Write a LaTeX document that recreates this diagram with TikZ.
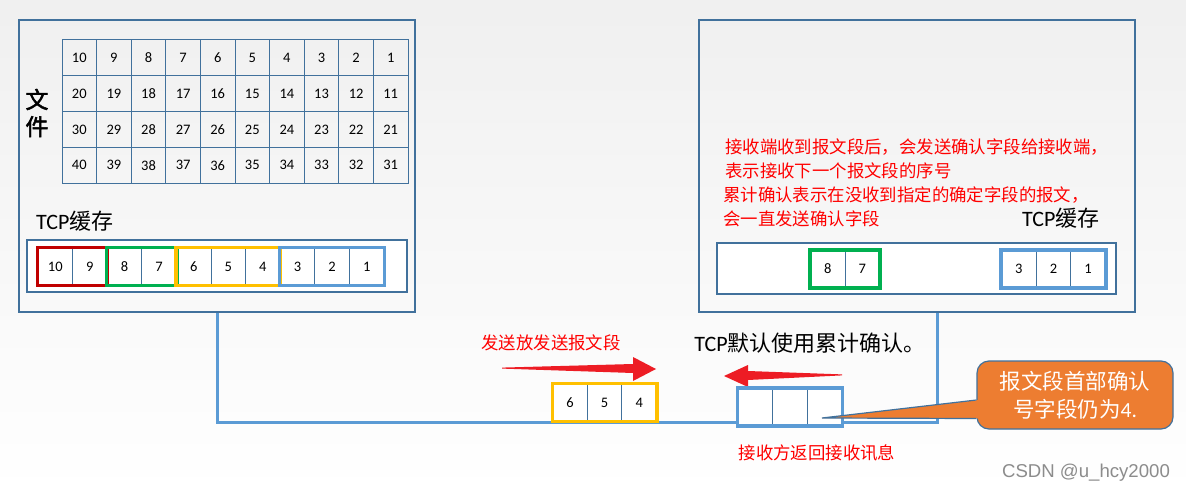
\documentclass[tikz,border=0pt]{standalone}
\usepackage{fontspec}
\usetikzlibrary{calc}
\setmainfont{Carlito}
\newfontfamily\cjk{Noto Sans CJK SC}
\newfontfamily\cjkbf[FakeBold=2]{Noto Sans CJK SC}
\newfontfamily\markfont{Liberation Sans}
\definecolor{cellline}{RGB}{65,113,156}
\definecolor{linkblue}{RGB}{91,155,213}
\definecolor{segred}{RGB}{192,0,0}
\definecolor{seggreen}{RGB}{0,176,80}
\definecolor{segyellow}{RGB}{255,192,0}
\definecolor{notered}{RGB}{255,0,0}
\definecolor{arrowred}{RGB}{237,28,36}
\definecolor{memobg}{RGB}{237,125,49}

\begin{document}
\begin{tikzpicture}[x=1pt, y=-1pt,
    host/.style={draw=cellline, line width=1.2pt, minimum width=#1,
                 minimum height=292pt, inner sep=0pt},
    gridcell/.style={draw=cellline, line width=1pt, minimum width=34.6pt,
                     minimum height=35.8pt, inner sep=0pt, font=\fontsize{14.5}{16}\selectfont},
    cell/.style={draw=cellline, fill=white, line width=1pt, minimum width=34.6pt,
                 minimum height=37pt, inner sep=0pt, font=\fontsize{14.5}{16}\selectfont},
    seg/.style={line width=3.4pt},
    buffer/.style={draw=cellline, fill=white, line width=1.1pt, inner sep=0pt},
    link/.style={draw=linkblue, line width=3pt},
    redtext/.style={font=\cjk\fontsize{17.4}{23.8}\selectfont, text=notered, inner sep=0pt},
    bufname/.style={font=\fontsize{22}{24}\selectfont, inner sep=0pt}
]
    % Background
    \shade[top color=black!6, middle color=black!1, bottom color=white]
        (0,0) rectangle (1186,492);
    \useasboundingbox (0,0) rectangle (1186,492);

    % Hosts
    \node[host=396pt] (sender)   at (217,166) {};
    \node[host=436pt] (receiver) at (917,166) {};
    \coordinate (bend) at (937,422);
    \draw[link] (sender.south) |- (bend) -- (bend |- receiver.south);

    % File
    \node[font=\cjkbf\fontsize{23}{27}\selectfont, align=center, inner sep=0pt]
        (file) at (37,113) {文\\件};
    \foreach \r in {0,...,3}
        \foreach \c in {0,...,9} {
            \pgfmathtruncatemacro{\n}{10*\r+10-\c}
            \node[gridcell] (f\n) at ({79.3+34.6*\c}, {57.9+35.8*\r}) {\n};
        }

    % Sender buffer
    \node[bufname, anchor=west] (sendname) at (36,221) {TCP{\cjk 缓存}};
    \node[buffer, minimum width=380pt, minimum height=52pt] (sendbuf) at (217,266) {};
    \foreach \n [count=\i from 0] in {10,9,...,1}
        \node[cell] (l\n) at ({55.3+34.6*\i}, 266.5) {\n};
    \draw[seg, segred]    (l10.north west) rectangle (l9.south east);
    \draw[seg, seggreen]  (l8.north west)  rectangle (l7.south east);
    \draw[seg, segyellow] (l6.north west)  rectangle (l4.south east);
    \draw[seg, linkblue]  (l3.north west)  rectangle (l1.south east);

    % Receiver notes and buffer
    \node[redtext, anchor=north west, align=left] (acknote) at (725,139)
        {接收端收到报文段后，会发送确认字段给接收端，\\表示接收下一个报文段的序号};
    \node[redtext, anchor=north west, align=left] (cumnote) at (723,187)
        {累计确认表示在没收到指定的确定字段的报文，\\会一直发送确认字段};
    \node[bufname, anchor=west] (recvname) at (1022,218) {TCP{\cjk 缓存}};
    \node[buffer, minimum width=399pt, minimum height=51pt] (recvbuf) at (916.5,268.5) {};
    \node[cell] (r8) at (827.7,269) {8};
    \node[cell] (r7) at (862.3,269) {7};
    \node[cell] (r3) at (1018.9,269) {3};
    \node[cell] (r2) at (1053.5,269) {2};
    \node[cell] (r1) at (1088.1,269) {1};
    \draw[seg, seggreen] (r8.north west) rectangle (r7.south east);
    \draw[seg, linkblue] (r3.north west) rectangle (r1.south east);

    % Segment in flight
    \node[redtext] (sendtext) at (551,343) {发送放发送报文段};
    \fill[arrowred] (502,367.6) -- (633,364) -- (633,357) -- (656,369)
        -- (633,381) -- (633,373) -- (502,368.6) -- cycle;
    \node[cell] (s6) at (570,402.5) {6};
    \node[cell] (s5) at (604.6,402.5) {5};
    \node[cell] (s4) at (639.2,402.5) {4};
    \draw[seg, segyellow] (s6.north west) rectangle (s4.south east);

    % Acknowledgement
    \node[font=\fontsize{22}{24}\selectfont, inner sep=0pt] (cumtext) at (810,343)
        {TCP{\cjk 默认使用累计确认。}};
    \fill[arrowred] (842,374.4) -- (748,371) -- (748,365) -- (724,376)
        -- (748,387) -- (748,380) -- (842,375.4) -- cycle;
    \node[cell] (a1) at (755.3,407) {};
    \node[cell] (a2) at (789.9,407) {};
    \node[cell] (a3) at (824.5,407) {};
    \draw[seg, linkblue] (a1.north west) rectangle (a3.south east);
    \node[redtext] (acktext) at (817,453) {接收方返回接收讯息};

    % Callout
    \node[draw=cellline, fill=memobg, line width=1.2pt, rounded corners=12pt,
          minimum width=196pt, minimum height=68pt, align=center, text=white,
          font=\fontsize{21.5}{28}\selectfont] (memo) at (1075,395)
        {{\cjk 报文段首部确认}\\{\cjk 号字段仍为}4.};
    \coordinate (memotip) at (822,418);
    \fill[memobg] ($(memo.west)+(2,5)$) -- (memotip) -- ($(memo.west)+(2,23.5)$) -- cycle;
    \draw[cellline, line width=1.2pt] ($(memo.west)+(0,5)$) -- (memotip)
        -- ($(memo.west)+(0,23.5)$);

    % Watermark
    \node[font=\markfont\fontsize{18.6}{20}\selectfont, text=black!45, inner sep=0pt]
        (mark) at (1086,473) {CSDN @u\_hcy2000};
\end{tikzpicture}
\end{document}
